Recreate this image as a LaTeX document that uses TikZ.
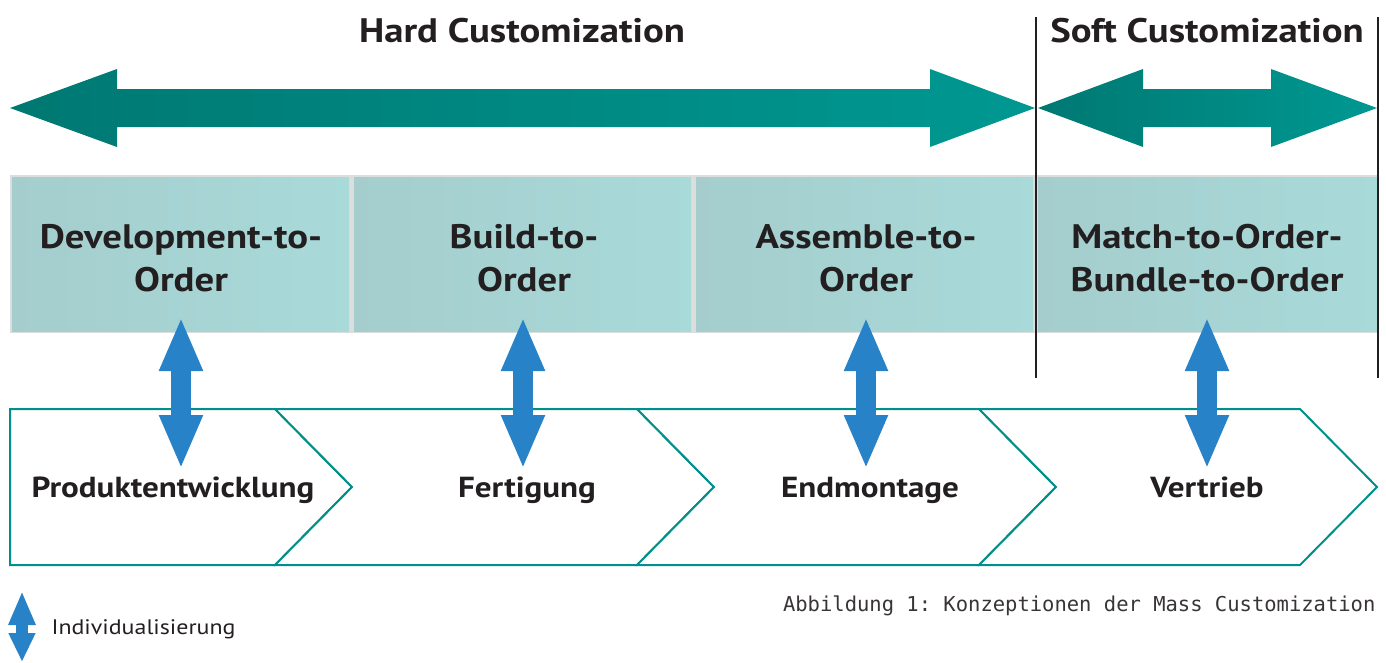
\documentclass[tikz,border=0pt]{standalone}
\usepackage{fontspec}
\setmainfont[FakeStretch=1.14]{PT Sans}
\setmonofont{DejaVu Sans Mono}
\usetikzlibrary{arrows.meta}
\definecolor{tealdark}{RGB}{0,120,114}
\definecolor{teallight}{RGB}{0,152,146}
\definecolor{boxleft}{RGB}{165,205,205}
\definecolor{boxright}{RGB}{168,218,217}
\definecolor{boxgap}{RGB}{220,222,222}
\definecolor{chevline}{RGB}{0,143,137}
\definecolor{indblue}{RGB}{40,130,200}
\definecolor{ink}{RGB}{35,31,32}
\tikzset{
  title/.style={font=\bfseries\fontsize{34}{40}\selectfont, text=ink},
  boxtext/.style={font=\bfseries\fontsize{34}{43}\selectfont, text=ink, align=center},
  stagetext/.style={font=\bfseries\fontsize{29}{32}\selectfont, text=ink, anchor=base},
  stagebox/.style={left color=boxleft, right color=boxright, draw=none},
  chevron/.style={draw=chevline, line width=2, fill=white, line join=miter},
  bigarrow/.style={left color=tealdark, right color=teallight, draw=none},
  divider/.style={draw=ink, line width=2},
  indarrow/.style={draw=indblue, line width=20, {Triangle[width=40,length=54]}-{Triangle[width=40,length=54]}},
}
\begin{document}
\begin{tikzpicture}[x=1pt,y=-1pt]
\useasboundingbox (0,0) rectangle (1386,662);

% headings
\node[title] (hard) at (522,31) {Hard Customization};
\node[title] (soft) at (1207,31) {Soft Customization};

% hard customization range
\path[bigarrow] (10,108) -- (117,69) -- (117,89) -- (930,89) -- (930,69) -- (1035,108)
  -- (930,147) -- (930,127) -- (117,127) -- (117,147) -- cycle;
% soft customization range
\path[bigarrow] (1038,108) -- (1143,69) -- (1143,89) -- (1271,89) -- (1271,69) -- (1377,108)
  -- (1271,147) -- (1271,127) -- (1143,127) -- (1143,147) -- cycle;

% order concepts
\fill[boxgap] (10,175) rectangle (1379,333);
\path[stagebox] (12,177) rectangle (349,331);
\path[stagebox] (354,177) rectangle (691,331);
\path[stagebox] (696,177) rectangle (1033,331);
\path[stagebox] (1038,177) rectangle (1377,331);
\node[boxtext] (dto) at (181,258) {Development-to-\\Order};
\node[boxtext] (bto) at (524,258) {Build-to-\\Order};
\node[boxtext] (ato) at (866,258) {Assemble-to-\\Order};
\node[boxtext] (mto) at (1207,258) {Match-to-Order-\\Bundle-to-Order};

% value chain
\path[chevron] (10,409) -- (275,409) -- (352,487) -- (275,565) -- (10,565) -- cycle;
\path[chevron] (275,409) -- (637,409) -- (714,487) -- (637,565) -- (275,565) -- (352,487) -- cycle;
\path[chevron] (637,409) -- (979,409) -- (1056,487) -- (979,565) -- (637,565) -- (714,487) -- cycle;
\path[chevron] (979,409) -- (1300,409) -- (1377,487) -- (1300,565) -- (979,565) -- (1056,487) -- cycle;
\node[stagetext] (pe) at (173,497) {Produktentwicklung};
\node[stagetext] (fe) at (527,497) {Fertigung};
\node[stagetext] (em) at (870,497) {Endmontage};
\node[stagetext] (ve) at (1207,497) {Vertrieb};

% dividers between hard and soft customization
\draw[divider] (1036,17) -- (1036,378);
\draw[divider] (1378,17) -- (1378,378);

% individualisation links
\coordinate (a1) at (181,317); \coordinate (b1) at (181,469);
\coordinate (a2) at (523,317); \coordinate (b2) at (523,469);
\coordinate (a3) at (866,317); \coordinate (b3) at (866,469);
\coordinate (a4) at (1207,317); \coordinate (b4) at (1207,469);
\draw[indarrow] (a1) -- (b1);
\draw[indarrow] (a2) -- (b2);
\draw[indarrow] (a3) -- (b3);
\draw[indarrow] (a4) -- (b4);

% legend
\coordinate (la) at (22,591); \coordinate (lb) at (22,662);
\draw[draw=indblue, line width=12, {Triangle[width=25,length=34]}-{Triangle[width=25,length=29]}] (la) -- (lb);
\node[font=\fontsize{21}{26}\selectfont, text=ink, anchor=west] (leg) at (48,629) {Individualisierung};

% caption
\node[font=\ttfamily\fontsize{20.5}{24}\selectfont, text=ink!90, anchor=east] (cap) at (1379,606) {Abbildung 1: Konzeptionen der Mass Customization};
\end{tikzpicture}
\end{document}
